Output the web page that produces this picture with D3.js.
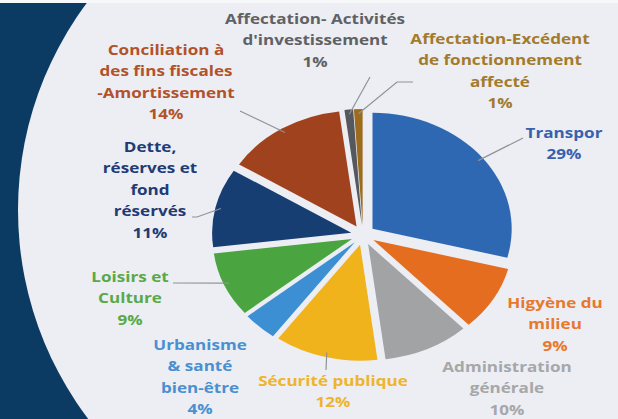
<!DOCTYPE html>
<html>
<head>
<meta charset="utf-8">
<script src="https://cdn.jsdelivr.net/npm/d3@7"></script>
<style>
  html, body { margin: 0; padding: 0; background: #0b3a63; }
  svg { display: block; }
  .lbl { font-family: "Open Sans", sans-serif; font-weight: 700; font-size: 14px; }
</style>
</head>
<body>
<svg id="chart"></svg>
<script>
// budget categories, clockwise from 12 o'clock
const categories = [
    "Transport", "Higyène du milieu", "Administration générale", "Sécurité publique",
    "Urbanisme & santé bien-être", "Loisirs et Culture", "Dette, réserves et fond réservés",
    "Conciliation à des fins fiscales -Amortissement", "Affectation- Activités d'investissement",
    "Affectation-Excédent de fonctionnement affecté"
];
const shares = [29, 9, 10, 12, 4, 9, 11, 14, 1, 1];
const labelLines = [
    ["Transpor", "29%"],
    ["Higyène du", "milieu", "9%"],
    ["Administration", "générale", "10%"],
    ["Sécurité publique", "12%"],
    ["Urbanisme", "& santé", "bien-être", "4%"],
    ["Loisirs et", "Culture", "9%"],
    ["Dette,", "réserves et", "fond", "réservés", "11%"],
    ["Conciliation à", "des fins fiscales", "-Amortissement", "14%"],
    ["Affectation- Activités", "d'investissement", "1%"],
    ["Affectation-Excédent", "de fonctionnement", "affecté", "1%"]
];
const sliceColors = ["#2f68b2", "#e56d20", "#a2a3a5", "#f0b31b", "#3b8fd2",
    "#4aa540", "#173e72", "#a1421e", "#55585d", "#9d6b1e"];
const textColors = ["#3861ad", "#e8782c", "#a6a7a9", "#efb42a", "#4a90d0",
    "#5aa948", "#213b74", "#b3522a", "#5f6165", "#a27b2c"];

// label placement: x centre, y of first baseline, leader end (null = no leader)
const labelLayout = [
    { x: 564, y: 138, lead: [[523, 138]] },
    { x: 555, y: 308, lead: null },
    { x: 507, y: 372, lead: null },
    { x: 333, y: 386, lead: [[326, 370]] },
    { x: 200, y: 350, lead: null },
    { x: 130, y: 282, lead: [[173, 283]] },
    { x: 150, y: 152, lead: [[197, 217], [192, 217]] },
    { x: 166, y: 55, lead: [[240, 111]] },
    { x: 315, y: 24, lead: [[370, 77]] },
    { x: 500, y: 44, lead: [[397, 82], [413, 82]] }
];

const width = 618, height = 419;
const cx = 363, cy = 235, ry = 116, sx = 1.2, explode = 10;
const lineH = 21.5, textSx = 1.22;

const svg = d3.select("#chart").attr("width", width).attr("height", height);

// navy backdrop with the big light disc
svg.append("rect").attr("width", width).attr("height", height).attr("fill", "#0b3a63");
svg.append("circle").attr("cx", 364).attr("cy", 210).attr("r", 346).attr("fill", "#eceef3");
svg.append("rect").attr("width", width).attr("height", 3).attr("fill", "#f7f8fa");

const pie = d3.pie().sort(null).value(d => d)(shares);
const arc = d3.arc().innerRadius(0).outerRadius(ry);

const pieG = svg.append("g")
    .attr("transform", `translate(${cx},${cy}) scale(${sx},1)`);

pieG.selectAll("path")
    .data(pie)
    .join("path")
    .attr("transform", d => {
        const a = (d.startAngle + d.endAngle) / 2;
        return `translate(${Math.sin(a) * explode},${-Math.cos(a) * explode})`;
    })
    .attr("d", arc)
    .attr("fill", (d, i) => sliceColors[i]);

// point on a slice's outer edge, in page coords
function edgePoint(d, k) {
    const a = (d.startAngle + d.endAngle) / 2;
    const r = ry * k + explode;
    return [cx + Math.sin(a) * r * sx, cy - Math.cos(a) * r];
}

const leaders = svg.append("g");
pie.forEach((d, i) => {
    const lay = labelLayout[i];
    if (!lay.lead) return;
    const pts = [edgePoint(d, 0.96)].concat(lay.lead);
    leaders.append("path")
        .attr("d", d3.line()(pts))
        .attr("fill", "none")
        .attr("stroke", "#8f9296")
        .attr("stroke-width", 1.2);
});

// the source picture is stretched sideways, so the text is too
const labels = svg.append("g");
labelLines.forEach((lines, i) => {
    const lay = labelLayout[i];
    const t = labels.append("text")
        .attr("class", "lbl")
        .attr("text-anchor", "middle")
        .attr("transform", `translate(${lay.x},0) scale(${textSx},1)`)
        .attr("fill", textColors[i]);
    lines.forEach((s, j) => {
        t.append("tspan").attr("x", 0).attr("y", lay.y + j * lineH).text(s);
    });
});
</script>
</body>
</html>
